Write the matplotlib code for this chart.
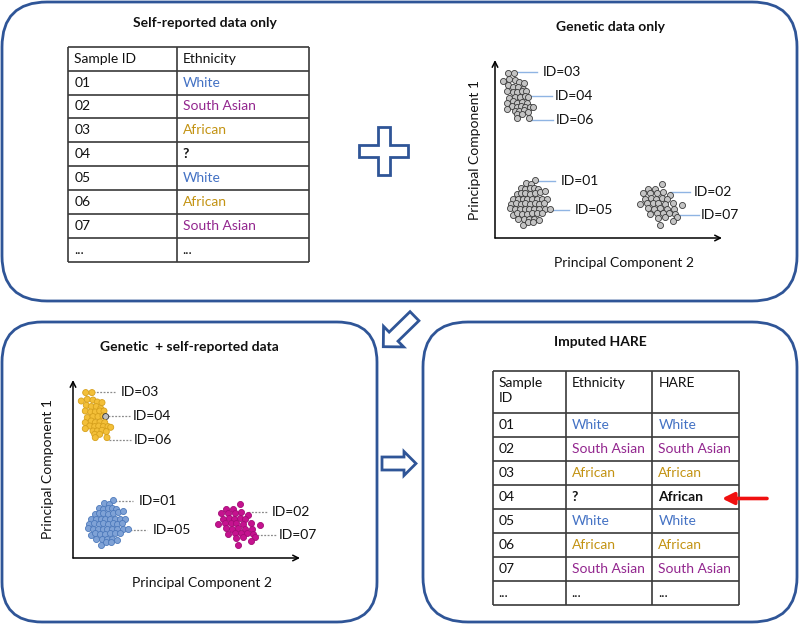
import matplotlib.pyplot as plt
from matplotlib.patches import FancyBboxPatch, Polygon
import numpy as np

plt.rcParams["font.family"] = ["Lato", "DejaVu Sans"]

# ---- table contents ----
sample_ids = ["01", "02", "03", "04", "05", "06", "07", "..."]
self_reported = ["White", "South Asian", "African", "?", "White", "African", "South Asian", "..."]
imputed_hare = ["White", "South Asian", "African", "African", "White", "African", "South Asian", "..."]
imputed_row = 3  # the row whose ethnicity was missing

# ---- PCA scatter (PC2 = x, PC1 = y) ----
cluster_african_pc2 = [12.7, 19.0, 8.3, 14.3, 20.0, 24.3, 29.0, 13.3, 18.3, 23.3, 27.7, 12.3, 17.7,
                       22.3, 26.7, 31.0, 14.3, 20.0, 25.0, 30.0, 32.7, 12.3, 18.3, 22.3, 27.0, 31.7,
                       16.7, 21.7, 25.7, 30.3, 35.0, 37.7, 12.3, 20.0, 24.3, 29.0, 33.3, 21.7, 26.7,
                       22.3, 34.0]
cluster_african_pc1 = [165.4, 165.4, 157.0, 158.7, 158.0, 156.0, 155.4, 152.7, 151.4, 151.4, 149.4,
                       147.0, 146.0, 146.0, 147.0, 147.0, 140.4, 141.4, 141.4, 142.0, 141.4, 135.4,
                       137.0, 135.4, 136.0, 135.4, 132.0, 131.4, 132.0, 131.4, 131.4, 130.7, 129.4,
                       127.0, 127.0, 127.7, 126.4, 123.7, 123.7, 120.4, 120.4]
unknown_index = 20  # sample ID=04

cluster_white_pc2 = [40.0, 31.0, 35.7, 25.7, 30.0, 35.0, 39.0, 43.3, 21.7, 25.7, 30.3, 35.0, 40.0,
                     45.0, 50.0, 18.3, 23.3, 27.7, 32.3, 37.0, 41.7, 46.7, 51.7, 16.0, 21.0, 25.7,
                     30.3, 35.0, 40.0, 44.3, 49.0, 15.0, 20.0, 25.0, 30.0, 34.3, 39.0, 44.3, 50.0,
                     55.0, 17.7, 22.3, 26.7, 31.7, 36.7, 41.7, 46.7, 23.3, 29.0, 34.3, 39.0, 44.3,
                     27.7, 33.3, 38.3]
cluster_white_pc1 = [57.7, 55.4, 53.7, 50.4, 49.4, 50.0, 50.4, 48.7, 43.7, 44.7, 44.7, 43.7, 45.4,
                     46.0, 47.0, 38.7, 39.4, 39.4, 38.7, 39.4, 39.4, 38.7, 39.4, 33.7, 34.7, 33.7,
                     34.7, 33.7, 34.7, 33.7, 34.7, 30.4, 29.4, 28.7, 28.7, 29.4, 28.7, 29.4, 29.4,
                     29.4, 22.7, 24.7, 23.7, 23.7, 25.4, 24.7, 25.4, 19.4, 18.7, 19.4, 18.7, 18.0,
                     12.7, 16.0, 16.0]

cluster_sasian_pc2 = [166.7, 153.3, 160.0, 147.7, 155.0, 161.7, 167.7, 175.0, 150.0, 155.7, 161.0,
                      166.7, 171.7, 177.7, 145.0, 151.7, 157.7, 163.3, 170.0, 186.7, 153.3, 159.0,
                      165.0, 171.7, 179.0, 155.0, 161.7, 168.3, 174.3, 180.0, 163.3, 170.0, 182.3,
                      165.0, 177.7]
cluster_sasian_pc1 = [53.7, 49.4, 49.4, 44.7, 45.4, 45.4, 46.0, 42.7, 39.4, 40.4, 39.4, 40.0, 38.7,
                      35.4, 33.7, 34.7, 34.7, 34.7, 34.0, 33.4, 30.4, 29.4, 30.4, 29.4, 29.4, 23.7,
                      24.7, 24.7, 25.4, 23.7, 20.4, 21.4, 21.4, 12.7, 16.7]

# ---- ID call-outs ----
id_labels = ["ID=03", "ID=04", "ID=06", "ID=01", "ID=05", "ID=02", "ID=07"]
leader_start = [20.3, 35.0, 36.0, 42.0, 57.0, 175.3, 183.7]
leader_end = [42.0, 57.0, 58.0, 60.3, 73.7, 195.3, 204.0]
leader_pc1 = [166.0, 142.0, 118.0, 57.0, 28.0, 46.2, 23.2]
label_pc2 = [48.0, 59.5, 61.0, 65.5, 80.0, 198.7, 206.0]

BOX_BLUE = "#2F5597"
GRID = "#3A3A3A"
TEXT_COLORS = {
    "White": "#4472C4",
    "South Asian": "#93278F",
    "African": "#C39313",
}
FS = 10


def to_fig(x0, y0, x1, y1):
    return [x0 / 800, 1 - y1 / 625, (x1 - x0) / 800, (y1 - y0) / 625]


def rounded_box(ax, x0, y0, x1, y1, r):
    ax.add_patch(FancyBboxPatch(
        (x0, y0), x1 - x0, y1 - y0,
        boxstyle=f"round,pad=0,rounding_size={r}",
        facecolor="white", edgecolor=BOX_BLUE, linewidth=2
    ))


def block_arrow(ax, tail, tip, w, hw, hl):
    tail = np.array(tail, float)
    tip = np.array(tip, float)
    d = (tip - tail) / np.linalg.norm(tip - tail)
    n = np.array([-d[1], d[0]])
    base = tip - d * hl
    pts = [tail + n * w / 2, base + n * w / 2, base + n * hw / 2, tip,
           base - n * hw / 2, base - n * w / 2, tail - n * w / 2]
    ax.add_patch(Polygon(pts, closed=True, facecolor="white",
                         edgecolor=BOX_BLUE, linewidth=2, joinstyle="miter"))


def plus_sign(ax, cx, cy, half_w, half_x, half_y):
    pts = [(cx - half_w, cy - half_y), (cx + half_w, cy - half_y), (cx + half_w, cy - half_w),
           (cx + half_x, cy - half_w), (cx + half_x, cy + half_w), (cx + half_w, cy + half_w),
           (cx + half_w, cy + half_y), (cx - half_w, cy + half_y), (cx - half_w, cy + half_w),
           (cx - half_x, cy + half_w), (cx - half_x, cy - half_w), (cx - half_w, cy - half_w)]
    ax.add_patch(Polygon(pts, closed=True, facecolor="white",
                         edgecolor=BOX_BLUE, linewidth=2, joinstyle="miter"))


def draw_table(ax, columns, col_x, top, header_h, row_h, header_lines):
    n_rows = len(columns[0])
    row_y = [top, top + header_h] + [top + header_h + row_h * (i + 1) for i in range(n_rows)]
    ax.hlines(row_y, col_x[0], col_x[-1], color=GRID, linewidth=1.2)
    ax.vlines(col_x, row_y[0], row_y[-1], color=GRID, linewidth=1.2)

    for c, header in enumerate(header_lines):
        ax.text(col_x[c] + 6, top + 6, header, ha="left", va="top",
                fontsize=FS, color="#111111", linespacing=1.3)

    for c, values in enumerate(columns):
        for r, value in enumerate(values):
            y = row_y[r + 1] + row_h / 2
            imputed = c == 2 and r == imputed_row
            if value == "?" or imputed:
                color, weight = "#111111", "bold"
            else:
                color, weight = TEXT_COLORS.get(value, "#111111"), "normal"
            ax.text(col_x[c] + 6, y, value, ha="left", va="center",
                    fontsize=FS, color=color, fontweight=weight)
    return row_y


def draw_pca(fig, rect, colored, line_style):
    ax = fig.add_axes(to_fig(*rect))
    ax.set_xlim(0, 227)
    ax.set_ylim(0, 178)
    ax.axis("off")
    ax.patch.set_alpha(0)

    ax.annotate("", xy=(0, 1.0), xytext=(0, 0), xycoords="axes fraction",
                arrowprops=dict(arrowstyle="->", color="black", lw=1.1,
                                shrinkA=0, shrinkB=0))
    ax.annotate("", xy=(1.0, 0), xytext=(0, 0), xycoords="axes fraction",
                arrowprops=dict(arrowstyle="->", color="black", lw=1.1,
                                shrinkA=0, shrinkB=0))

    if colored:
        african_face = ["#F3BF38"] * len(cluster_african_pc2)
        african_edge = ["#D6A01C"] * len(cluster_african_pc2)
        african_face[unknown_index] = "#BDBDBD"
        african_edge[unknown_index] = "#333333"
        groups = [
            (cluster_african_pc2, cluster_african_pc1, african_face, african_edge),
            (cluster_white_pc2, cluster_white_pc1, "#7FA2D6", "#4D79BB"),
            (cluster_sasian_pc2, cluster_sasian_pc1, "#C5128F", "#A30C76"),
        ]
    else:
        groups = [
            (cluster_african_pc2, cluster_african_pc1, "#C4C4C4", "#3A3A3A"),
            (cluster_white_pc2, cluster_white_pc1, "#C4C4C4", "#3A3A3A"),
            (cluster_sasian_pc2, cluster_sasian_pc1, "#C4C4C4", "#3A3A3A"),
        ]
    for xs, ys, face, edge in groups:
        ax.scatter(xs, ys, s=19, c=face, edgecolors=edge, linewidths=0.6,
                   clip_on=False, zorder=3)

    for label, x0, x1, y, lx in zip(id_labels, leader_start, leader_end, leader_pc1, label_pc2):
        ax.plot([x0, x1], [y, y], clip_on=False, zorder=2, **line_style)
        ax.text(lx, y, label, ha="left", va="center", fontsize=FS, color="#111111")
    return ax


def main():
    fig = plt.figure(figsize=(8, 6.25), dpi=100)
    ax = fig.add_axes([0, 0, 1, 1])
    ax.set_xlim(0, 800)
    ax.set_ylim(625, 0)
    ax.axis("off")

    rounded_box(ax, 2, 2, 797, 301, 45)
    rounded_box(ax, 2, 322, 377, 622, 40)
    rounded_box(ax, 423, 322, 797, 622, 45)

    title_kw = dict(ha="center", va="center", fontsize=FS, fontweight="bold", color="#111111")
    ax.text(205, 23, "Self-reported data only", **title_kw)
    ax.text(610, 27, "Genetic data only", **title_kw)
    ax.text(189, 347, "Genetic  + self-reported data", **title_kw)
    ax.text(600, 342, "Imputed HARE", **title_kw)

    # top-left table
    draw_table(ax, [sample_ids, self_reported], [68.3, 176.7, 309.3],
               46.7, 23.9, 23.9, ["Sample ID", "Ethnicity"])

    # bottom-right table
    draw_table(ax, [sample_ids, self_reported, imputed_hare], [492.7, 565.7, 652.3, 739],
               371, 42.3, 23.9, ["Sample\nID", "Ethnicity", "HARE"])

    ax.annotate("", xy=(722, 498.5), xytext=(767, 498.5),
                arrowprops=dict(arrowstyle="-|>,head_length=0.7,head_width=0.35",
                                color="#F01010", lw=2.6, shrinkA=0, shrinkB=0))

    plus_sign(ax, 383.7, 151, 6, 24.5, 24)
    block_arrow(ax, (414.5, 316.2), (383.3, 346.7), 12.7, 28.8, 14.4)
    block_arrow(ax, (382, 463.5), (416, 463.5), 13, 24, 12)

    # scatter panels
    draw_pca(fig, (495, 60, 722, 238), False,
             dict(color="#8FB4E3", linewidth=1.0))
    draw_pca(fig, (73, 380, 300, 558), True,
             dict(color="#8A8A8A", linewidth=0.9, linestyle=(0, (1.5, 1.2))))

    label_kw = dict(fontsize=FS, color="#111111", ha="center", va="center")
    ax.text(475, 150, "Principal Component 1", rotation=90, **label_kw)
    ax.text(624, 263, "Principal Component 2", **label_kw)
    ax.text(48, 469, "Principal Component 1", rotation=90, **label_kw)
    ax.text(202.5, 583, "Principal Component 2", **label_kw)

    fig.savefig("out.png", dpi=100)
    plt.close(fig)


if __name__ == "__main__":
    main()
